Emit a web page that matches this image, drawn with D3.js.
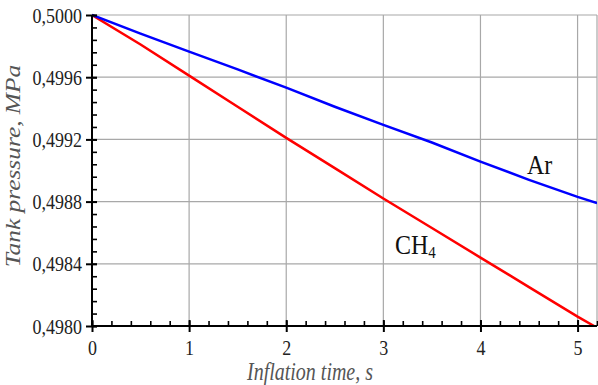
<!DOCTYPE html>
<html>
<head>
<meta charset="utf-8">
<script src="https://cdn.jsdelivr.net/npm/d3@7/dist/d3.min.js"></script>
<style>
  html, body { margin: 0; padding: 0; background: #fff; }
  svg { display: block; }
  svg text { font-family: "Liberation Serif", "Times New Roman", "DejaVu Serif", serif; }
</style>
</head>
<body>
<svg id="chart" width="598" height="385"></svg>
<script>
// ---- data ----
const arTime   = [0, 0.5, 1, 1.5, 2, 2.5, 3, 3.5, 4, 4.5, 5, 5.2];
const arPress  = [0.5, 0.49988, 0.499764, 0.49965, 0.499533, 0.49941, 0.499293, 0.49918, 0.499057, 0.49894, 0.49883, 0.49879];
const ch4Time  = [0, 0.5, 1, 1.5, 2, 2.5, 3, 3.5, 4, 4.5, 5, 5.17];
const ch4Press = [0.5, 0.49981, 0.49961, 0.49941, 0.49921, 0.499015, 0.49882, 0.49863, 0.49844, 0.49825, 0.49806, 0.4980];
const xTicks = [0, 1, 2, 3, 4, 5];
const yTicks = [0.4980, 0.4984, 0.4988, 0.4992, 0.4996, 0.5000];
const xMinor = d3.range(0, 5.2001, 0.2);
const yMinor = d3.range(0.4980, 0.50001, 0.00008);
const seriesNames = ["Ar", "CH4"];

// ---- layout ----
const svg = d3.select("#chart");
const pL = 92, pR = 597, pT = 15, pB = 326;
const sy = 1.22;
const serif = '"Liberation Serif", "Times New Roman", "DejaVu Serif", serif';

const x = d3.scaleLinear().domain([0, 5.2]).range([pL, pR]);
const y = d3.scaleLinear().domain([0.4980, 0.5000]).range([pB, pT]);

const loc = d3.formatLocale({decimal: ",", thousands: " ", grouping: [3], currency: ["", ""]});
const fmtY = loc.format(".4f");

// grid
const grid = svg.append("g");
grid.selectAll("line.v").data(xTicks.slice(1).concat([5.2])).join("line")
  .attr("x1", d => x(d)).attr("x2", d => x(d))
  .attr("y1", pT).attr("y2", pB)
  .attr("stroke", "#a8a8a8").attr("stroke-width", 1.2);
grid.selectAll("line.h").data(yTicks.slice(1)).join("line")
  .attr("x1", pL).attr("x2", pR)
  .attr("y1", d => y(d)).attr("y2", d => y(d))
  .attr("stroke", "#a8a8a8").attr("stroke-width", 1.2);

// lines
svg.append("clipPath").attr("id", "clip").append("rect")
  .attr("x", pL).attr("y", pT - 2).attr("width", pR - pL).attr("height", pB - pT + 2);
const line = d3.line().x(d => x(d[0])).y(d => y(d[1]));
const arData = arTime.map((t, i) => [t, arPress[i]]);
const chData = ch4Time.map((t, i) => [t, ch4Press[i]]);
const lines = svg.append("g").attr("clip-path", "url(#clip)");
lines.append("path").datum(chData).attr("d", line)
  .attr("fill", "none").attr("stroke", "#ff0000").attr("stroke-width", 2.5);
lines.append("path").datum(arData).attr("d", line)
  .attr("fill", "none").attr("stroke", "#0000ff").attr("stroke-width", 2.5);

// minor ticks
svg.append("g").attr("transform", `translate(0,${pB})`)
  .call(d3.axisTop(x).tickValues(xMinor).tickSize(5).tickFormat(""))
  .call(g => g.select(".domain").remove())
  .call(g => g.selectAll("line").attr("stroke", "#000").attr("stroke-width", 1.6));
svg.append("g").attr("transform", `translate(${pL},0)`)
  .call(d3.axisRight(y).tickValues(yMinor).tickSize(5).tickFormat(""))
  .call(g => g.select(".domain").remove())
  .call(g => g.selectAll("line").attr("stroke", "#000").attr("stroke-width", 1.6));

// major axes
const xAxis = svg.append("g").attr("transform", `translate(0,${pB})`)
  .call(d3.axisBottom(x).tickValues(xTicks).tickSize(6).tickSizeOuter(0).tickPadding(13).tickFormat(d3.format("d")));
xAxis.attr("font-family", serif);
xAxis.select(".domain").attr("stroke-width", 2).attr("d", `M${pL},0H${pR}`);
xAxis.selectAll(".tick line").attr("y1", -6).attr("stroke-width", 2);
xAxis.selectAll(".tick text")
  .attr("font-family", serif).attr("font-size", 18).attr("fill", "#222")
  .attr("transform", `scale(1,${sy})`).attr("dy", "0.71em").attr("y", 13 / sy);

const yAxis = svg.append("g").attr("transform", `translate(${pL},0)`)
  .call(d3.axisLeft(y).tickValues(yTicks).tickSize(6).tickSizeOuter(0).tickPadding(4).tickFormat(fmtY));
yAxis.attr("font-family", serif);
yAxis.select(".domain").attr("stroke-width", 2).attr("d", `M0,${pB}V${pT}`);
yAxis.selectAll(".tick line").attr("x1", 5).attr("stroke-width", 2);
yAxis.selectAll(".tick text")
  .attr("font-family", serif).attr("font-size", 18).attr("fill", "#222")
  .attr("transform", `scale(1,${sy})`);

// axis titles
svg.append("text")
  .attr("transform", `translate(310,380) scale(1,1.25)`)
  .attr("text-anchor", "middle")
  .attr("font-family", serif).attr("font-style", "italic")
  .attr("font-size", 20).attr("fill", "#555")
  .text("Inflation time, s");
svg.append("text")
  .attr("transform", `translate(20,166) scale(1,1.27) rotate(-90)`)
  .attr("text-anchor", "middle")
  .attr("font-family", serif).attr("font-style", "italic")
  .attr("font-size", 20).attr("fill", "#555")
  .text("Tank pressure, MPa");

// series labels
svg.append("text")
  .attr("transform", `translate(527,174) scale(1,1.1)`)
  .attr("font-family", serif).attr("font-size", 24).attr("fill", "#111")
  .text(seriesNames[0]);
const ch = svg.append("text")
  .attr("transform", `translate(395,254) scale(1,1.1)`)
  .attr("font-family", serif).attr("font-size", 24).attr("fill", "#111");
ch.append("tspan").text("CH");
ch.append("tspan").attr("font-size", 15).attr("dy", 4).text("4");
</script>
</body>
</html>
